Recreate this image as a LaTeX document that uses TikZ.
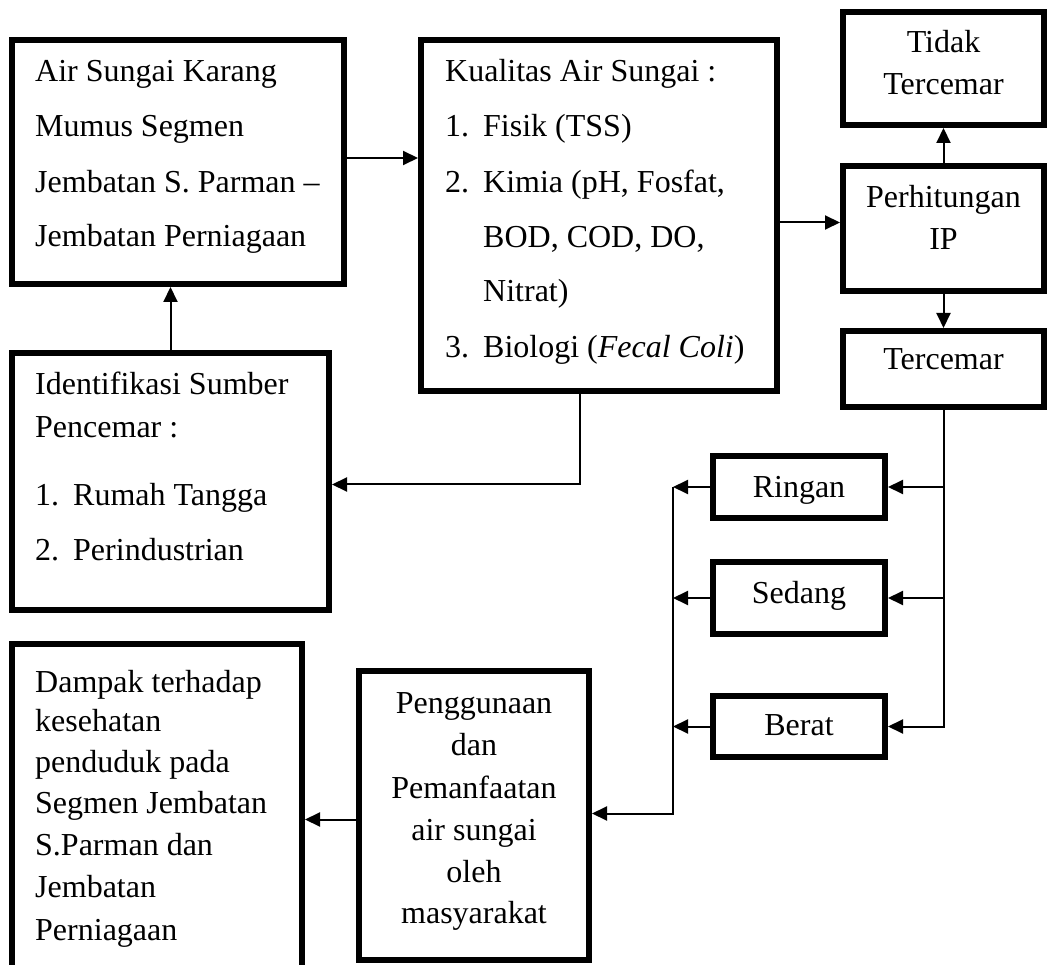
\documentclass[tikz,border=0pt]{standalone}
\usepackage{fontspec}
\setmainfont{Liberation Serif}
\usetikzlibrary{arrows.meta}
\tikzset{
  box/.style={draw, line width=6pt, rectangle, inner sep=0pt},
  conn/.style={line width=2pt},
  arr/.style={conn, -{Triangle[length=15pt,width=14pt]}},
  txt/.style={inner sep=0pt, anchor=base west, font=\fontsize{32}{38}\selectfont},
  ctxt/.style={txt, anchor=base},
}
\begin{document}
\begin{tikzpicture}[x=1pt,y=-1pt]
\useasboundingbox (0,0) rectangle (1050,965);
\fill[white] (0,0) rectangle (1050,965);

% boxes
\node[box, minimum width=332pt, minimum height=244pt] (A) at (178,162) {};
\node[box, minimum width=356pt, minimum height=351pt] (K) at (599,215.5) {};
\node[box, minimum width=201pt, minimum height=113pt] (T) at (943.5,68.5) {};
\node[box, minimum width=201pt, minimum height=125pt] (P) at (943.5,228.5) {};
\node[box, minimum width=201pt, minimum height=76pt] (C) at (943.5,369) {};
\node[box, minimum width=317pt, minimum height=257pt] (I) at (170.5,481.5) {};
\node[box, minimum width=172pt, minimum height=62pt] (R) at (799,487) {};
\node[box, minimum width=172pt, minimum height=72pt] (S) at (799,598) {};
\node[box, minimum width=172pt, minimum height=61pt] (B) at (799,726.5) {};
\node[box, minimum width=230pt, minimum height=289pt] (G) at (474,815.5) {};
\node[box, minimum width=290pt, minimum height=346pt] (D) at (157,817) {};

% texts
\node[txt] (a1) at (35,82) {Air Sungai Karang};
\node[txt] (a2) at (35,137) {Mumus Segmen};
\node[txt] (a3) at (35,193) {Jembatan S. Parman –};
\node[txt] (a4) at (35,247) {Jembatan Perniagaan};

\node[txt] (k0) at (445,82) {Kualitas Air Sungai :};
\node[txt] (k1n) at (445,137) {1.};
\node[txt] (k1) at (483,137) {Fisik (TSS)};
\node[txt] (k2n) at (445,193) {2.};
\node[txt] (k2) at (483,193) {Kimia (pH, Fosfat,};
\node[txt] (k2b) at (483,248) {BOD, COD, DO,};
\node[txt] (k2c) at (483,302) {Nitrat)};
\node[txt] (k3n) at (445,358) {3.};
\node[txt] (k3) at (483,358) {Biologi (\textit{Fecal Coli})};

\node[ctxt] (t1) at (943.5,53) {Tidak};
\node[ctxt] (t2) at (943.5,95) {Tercemar};
\node[ctxt] (p1) at (943.5,208) {Perhitungan};
\node[ctxt] (p2) at (943.5,250) {IP};
\node[ctxt] (c1) at (943.5,370) {Tercemar};

\node[txt] (i1) at (35,395) {Identifikasi Sumber};
\node[txt] (i2) at (35,438) {Pencemar :};
\node[txt] (i3n) at (35,505) {1.};
\node[txt] (i3) at (73,505) {Rumah Tangga};
\node[txt] (i4n) at (35,560) {2.};
\node[txt] (i4) at (73,560) {Perindustrian};

\node[ctxt] (r1) at (799,497) {Ringan};
\node[ctxt] (s1) at (799,603) {Sedang};
\node[ctxt] (b1) at (799,735) {Berat};

\node[ctxt] (g1) at (474,713) {Penggunaan};
\node[ctxt] (g2) at (474,755) {dan};
\node[ctxt] (g3) at (474,798) {Pemanfaatan};
\node[ctxt] (g4) at (474,840) {air sungai};
\node[ctxt] (g5) at (474,882) {oleh};
\node[ctxt] (g6) at (474,923) {masyarakat};

\node[txt] (d1) at (35,692) {Dampak terhadap};
\node[txt] (d2) at (35,731) {kesehatan};
\node[txt] (d3) at (35,772) {penduduk pada};
\node[txt] (d4) at (35,813) {Segmen Jembatan};
\node[txt] (d5) at (35,855) {S.Parman dan};
\node[txt] (d6) at (35,897) {Jembatan};
\node[txt] (d7) at (35,940) {Perniagaan};

% connectors
\draw[arr] (I.north) -- (I.north |- A.south);
\draw[arr] ([yshift=4pt]A.east) -- ([yshift=4pt]A.east -| K.west);
\draw[arr] ([yshift=-7pt]K.east) -- ([yshift=-7pt]K.east -| P.west);
\draw[arr] (P.north) -- (P.north |- T.south);
\draw[arr] (P.south) -- (P.south |- C.north);
\coordinate (kb) at ([xshift=-19pt]K.south);
\draw[arr] (kb) |- ([yshift=-3pt]I.east);
\draw[arr] (C.south) |- (B.east);
\draw[arr] (C.south |- R.east) -- (R.east);
\draw[arr] (C.south |- S.east) -- (S.east);
\coordinate (bus) at (673,487);
\draw[arr] (R.west) -- (R.west -| bus);
\draw[arr] (S.west) -- (S.west -| bus);
\draw[arr] (B.west) -- (B.west -| bus);
\draw[arr] (R.west -| bus) |- ([yshift=2pt]G.east);
\draw[arr] ([yshift=-4pt]G.west) -- ([yshift=-4pt]G.west -| D.east);
\end{tikzpicture}
\end{document}
